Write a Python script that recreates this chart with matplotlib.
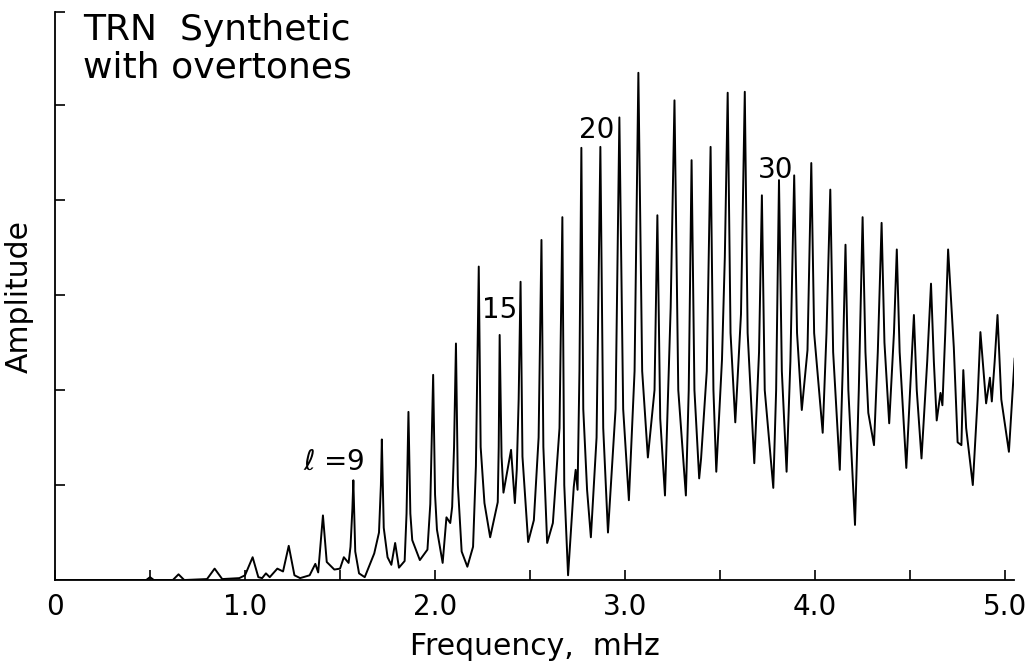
import matplotlib.pyplot as plt
from matplotlib.ticker import MultipleLocator

# spectrum: frequency (mHz) and amplitude (arbitrary units)
freq = [0.00, 0.48, 0.50, 0.52, 0.62, 0.65, 0.68, 0.80, 0.84, 0.88,
        0.97, 1.00, 1.04, 1.07, 1.09, 1.11, 1.13, 1.17, 1.20, 1.23,
        1.26, 1.29, 1.34, 1.37, 1.385, 1.41, 1.43, 1.47, 1.50, 1.52,
        1.545, 1.555, 1.565, 1.57, 1.58, 1.60, 1.63, 1.66, 1.68, 1.705,
        1.715, 1.72, 1.73, 1.75, 1.77, 1.79, 1.81, 1.84, 1.85, 1.86,
        1.87, 1.88, 1.92, 1.96, 1.975, 1.99, 2.00, 2.01, 2.04, 2.06,
        2.08, 2.09, 2.10, 2.11, 2.12, 2.14, 2.17, 2.20, 2.215, 2.23,
        2.24, 2.26, 2.29, 2.33, 2.335, 2.34, 2.35, 2.36, 2.40, 2.42,
        2.43, 2.44, 2.45, 2.46, 2.49, 2.52, 2.545, 2.56, 2.57, 2.59,
        2.62, 2.655, 2.67, 2.68, 2.70, 2.73, 2.74, 2.75, 2.76, 2.77,
        2.78, 2.80, 2.82, 2.85, 2.87, 2.885, 2.91, 2.95, 2.97, 2.99,
        3.02, 3.05, 3.07, 3.09, 3.12, 3.155, 3.17, 3.185, 3.21, 3.24,
        3.26, 3.28, 3.32, 3.335, 3.35, 3.365, 3.39, 3.40, 3.43, 3.45,
        3.465, 3.48, 3.51, 3.525, 3.54, 3.555, 3.58, 3.61, 3.63, 3.645,
        3.68, 3.705, 3.72, 3.735, 3.78, 3.795, 3.81, 3.825, 3.85, 3.87,
        3.89, 3.905, 3.93, 3.96, 3.98, 3.995, 4.04, 4.06, 4.08, 4.095,
        4.13, 4.145, 4.16, 4.175, 4.21, 4.23, 4.25, 4.265, 4.28, 4.31,
        4.33, 4.35, 4.365, 4.39, 4.415, 4.43, 4.445, 4.48, 4.50, 4.52,
        4.535, 4.56, 4.59, 4.61, 4.625, 4.64, 4.66, 4.67, 4.685, 4.70,
        4.73, 4.75, 4.77, 4.78, 4.795, 4.83, 4.855, 4.87, 4.90, 4.92,
        4.93, 4.945, 4.96, 4.98, 5.02, 5.05]
amp = [0.00, 0.00, 0.03, 0.00, 0.00, 0.06, 0.00, 0.01, 0.12, 0.01,
       0.02, 0.05, 0.24, 0.03, 0.02, 0.07, 0.03, 0.12, 0.09, 0.36,
       0.05, 0.02, 0.05, 0.17, 0.08, 0.68, 0.19, 0.11, 0.12, 0.24,
       0.18, 0.35, 0.75, 1.05, 0.30, 0.07, 0.03, 0.18, 0.28, 0.50,
       1.00, 1.48, 0.55, 0.24, 0.16, 0.39, 0.13, 0.20, 0.70, 1.77,
       0.70, 0.42, 0.21, 0.32, 0.80, 2.16, 0.90, 0.53, 0.18, 0.66,
       0.60, 0.77, 1.40, 2.49, 1.00, 0.30, 0.14, 0.35, 1.20, 3.30,
       1.40, 0.81, 0.45, 0.82, 1.40, 2.58, 1.30, 0.92, 1.37, 0.81,
       1.16, 1.90, 3.14, 1.30, 0.40, 0.63, 1.50, 3.58, 1.40, 0.39,
       0.60, 1.60, 3.82, 1.00, 0.05, 0.98, 1.16, 0.95, 2.20, 4.55,
       1.80, 0.95, 0.45, 1.50, 4.56, 1.60, 0.50, 1.80, 4.87, 1.80,
       0.84, 2.20, 5.34, 2.20, 1.29, 2.00, 3.84, 1.70, 0.89, 2.87,
       5.05, 2.00, 0.89, 2.00, 4.42, 2.00, 1.07, 1.28, 2.20, 4.56,
       2.00, 1.14, 2.32, 3.40, 5.13, 2.60, 1.66, 2.80, 5.14, 2.60,
       1.23, 2.40, 4.05, 2.00, 0.97, 2.00, 4.21, 2.20, 1.14, 2.30,
       4.26, 2.60, 1.79, 2.42, 4.39, 2.60, 1.55, 2.60, 4.11, 2.40,
       1.16, 2.20, 3.53, 2.00, 0.58, 2.00, 3.82, 2.40, 1.76, 1.42,
       2.40, 3.76, 2.50, 1.65, 2.60, 3.48, 2.40, 1.18, 2.00, 2.79,
       2.00, 1.28, 2.30, 3.12, 2.30, 1.68, 1.97, 1.84, 2.60, 3.48,
       2.45, 1.45, 1.42, 2.21, 1.60, 1.00, 1.90, 2.61, 1.86, 2.13,
       1.88, 2.30, 2.79, 1.90, 1.35, 2.33]

# angular-order labels and where they sit
mode_labels = ["$\\mathit{\\ell}$ =9", "15", "20", "30"]
label_freq = [1.47, 2.34, 2.85, 3.79]
label_amp = [1.24, 2.84, 4.74, 4.32]

xtick_vals = [0, 1, 2, 3, 4, 5]
xtick_text = ["0", "1.0", "2.0", "3.0", "4.0", "5.0"]

plt.rcParams['font.family'] = ['DejaVu Sans']
plt.rcParams['mathtext.fontset'] = 'dejavusans'

fig = plt.figure(figsize=(10.34, 6.70), dpi=100)
ax = fig.add_axes([0.0532, 0.1343, 0.9275, 0.8478])

ax.plot(freq, amp, color='black', lw=1.4)

ax.set_xlim(0, 5.047)
ax.set_ylim(0, 5.98)

ax.spines['top'].set_visible(False)
ax.spines['right'].set_visible(False)
ax.spines['left'].set_linewidth(1.3)
ax.spines['bottom'].set_linewidth(1.3)

ax.set_xticks(xtick_vals)
ax.set_xticklabels(xtick_text, fontsize=20)
ax.xaxis.set_minor_locator(MultipleLocator(0.5))
ax.set_yticks([1, 2, 3, 4, 5, 5.98])
ax.set_yticklabels([])
ax.tick_params(axis='both', which='both', direction='in', length=7, width=1.2, pad=9)
ax.tick_params(axis='y', which='minor', length=0)

ax.set_xlabel("Frequency,  mHz", fontsize=21.5, labelpad=8)
ax.set_ylabel("Amplitude", fontsize=21.5, labelpad=6)

fig.text(0.080, 0.980, "TRN  Synthetic\nwith overtones", fontsize=26,
         ha='left', va='top', linespacing=1.12)

for t, fx, ay in zip(mode_labels, label_freq, label_amp):
    ax.text(fx, ay, t, fontsize=20, ha='center', va='center')

fig.savefig("out.png", dpi=100)
